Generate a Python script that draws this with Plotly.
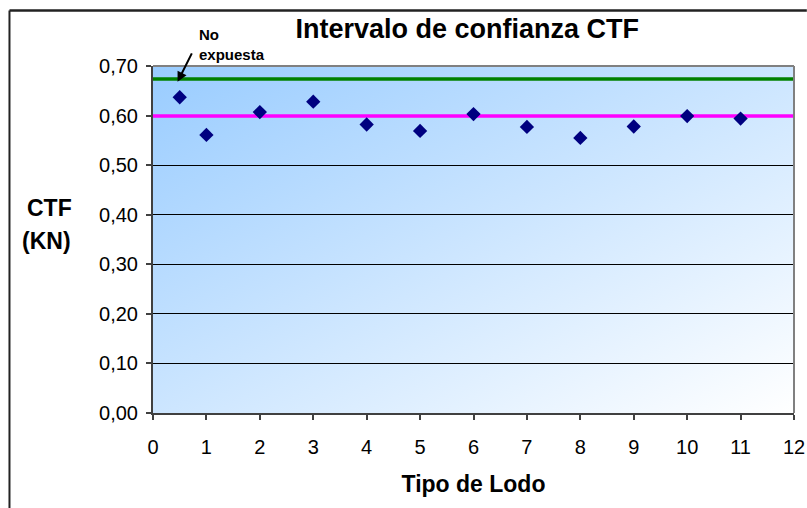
import base64
import plotly.graph_objects as go

# Datos
tipo_lodo = [0.5, 1, 2, 3, 4, 5, 6, 7, 8, 9, 10, 11]
ctf = [0.637, 0.561, 0.607, 0.628, 0.582, 0.569, 0.603, 0.577, 0.555, 0.578, 0.599, 0.594]
limite_sup = 0.674
media = 0.599
x_lineas = [0, 12]

font = "Liberation Sans, Arial, sans-serif"

# fondo degradado del área de trazado
svg = ("<svg xmlns='http://www.w3.org/2000/svg' viewBox='0 0 100 100' preserveAspectRatio='none'>"
       "<defs><linearGradient id='g' x1='0' y1='0' x2='1' y2='1'>"
       "<stop offset='0' stop-color='#99CCFF'/><stop offset='1' stop-color='#FFFFFF'/>"
       "</linearGradient></defs><rect width='100' height='100' fill='url(#g)'/></svg>")
bg_src = "data:image/svg+xml;base64," + base64.b64encode(svg.encode()).decode()

fig = go.Figure()
fig.add_trace(go.Scatter(x=x_lineas, y=[limite_sup] * 2, mode="lines",
                         line=dict(color="#008000", width=3.5), hoverinfo="skip"))
fig.add_trace(go.Scatter(x=x_lineas, y=[media] * 2, mode="lines",
                         line=dict(color="#FF00FF", width=3.5), hoverinfo="skip"))
fig.add_trace(go.Scatter(x=tipo_lodo, y=ctf, mode="markers",
                         marker=dict(symbol="diamond", size=11, color="#000080"),
                         cliponaxis=False))

fig.update_layout(
    width=807, height=508,
    margin=dict(l=153, r=13, t=66, b=95),
    paper_bgcolor="white",
    plot_bgcolor="rgba(0,0,0,0)",
    showlegend=False,
    separators=",.",
    font=dict(family=font, color="black"),
    title=dict(text="<b>Intervalo de confianza CTF</b>", font=dict(size=27),
               x=0.579, xanchor="center", y=0.943, yanchor="middle"),
    images=[dict(source=bg_src, xref="paper", yref="paper", x=0, y=1, sizex=1, sizey=1,
                 sizing="stretch", xanchor="left", yanchor="top", layer="below")],
)

fig.update_xaxes(range=[0, 12], dtick=1, tick0=0, showgrid=False, zeroline=False,
                 showline=True, linecolor="#404040", linewidth=2, automargin=False,
                 ticks="outside", ticklen=5, tickcolor="#404040", tickwidth=1.5,
                 tickfont=dict(size=20), ticklabelstandoff=10,
                 title=dict(text="<b>Tipo de Lodo</b>", font=dict(size=23), standoff=19))
fig.update_yaxes(range=[0, 0.7], dtick=0.1, tick0=0, tickformat=".2f",
                 showgrid=True, gridcolor="black", gridwidth=1, zeroline=False,
                 showline=True, linecolor="#404040", linewidth=2, automargin=False,
                 ticks="outside", ticklen=5, tickcolor="#404040", tickwidth=1.5,
                 tickfont=dict(size=20), ticklabelstandoff=4)

# borde gris superior y derecho del área de trazado
fig.add_shape(type="line", xref="paper", yref="paper", x0=0, x1=1, y0=1, y1=1,
              line=dict(color="#808080", width=2), layer="above")
fig.add_shape(type="line", xref="paper", yref="paper", x0=1, x1=1, y0=0, y1=1,
              line=dict(color="#808080", width=2), layer="above")
# marco exterior del gráfico (solo se ven los lados izquierdo y superior)
fig.add_shape(type="line", xref="paper", yref="paper", x0=-0.2239, x1=1.02, y0=1.16, y1=1.16,
              line=dict(color="#222222", width=2.5), layer="above")
fig.add_shape(type="line", xref="paper", yref="paper", x0=-0.2239, x1=-0.2239, y0=-0.4, y1=1.16,
              line=dict(color="#222222", width=2), layer="above")

# título del eje Y
fig.add_annotation(text="<b>CTF</b>", xref="paper", yref="paper", x=-0.1622, y=0.5908,
                   xanchor="center", yanchor="middle", showarrow=False, font=dict(size=23))
fig.add_annotation(text="<b>(KN)</b>", xref="paper", yref="paper", x=-0.1654, y=0.4957,
                   xanchor="center", yanchor="middle", showarrow=False, font=dict(size=23))

# etiqueta con flecha
fig.add_annotation(text="<b>No<br>expuesta</b>", x=0.82, xref="x", y=1.0634, yref="paper",
                   xanchor="left", yanchor="middle", align="left", showarrow=False,
                   font=dict(size=15))
fig.add_annotation(text="", x=0.46, y=0.668, ax=15, ay=-30, showarrow=True,
                   arrowhead=2, arrowsize=1, arrowwidth=2, arrowcolor="black")

# sin margen en la página para que la figura ocupe exactamente la ventana
fig.write_html("out.html", config={"displayModeBar": False},
               post_script="document.body.style.margin='0';")
